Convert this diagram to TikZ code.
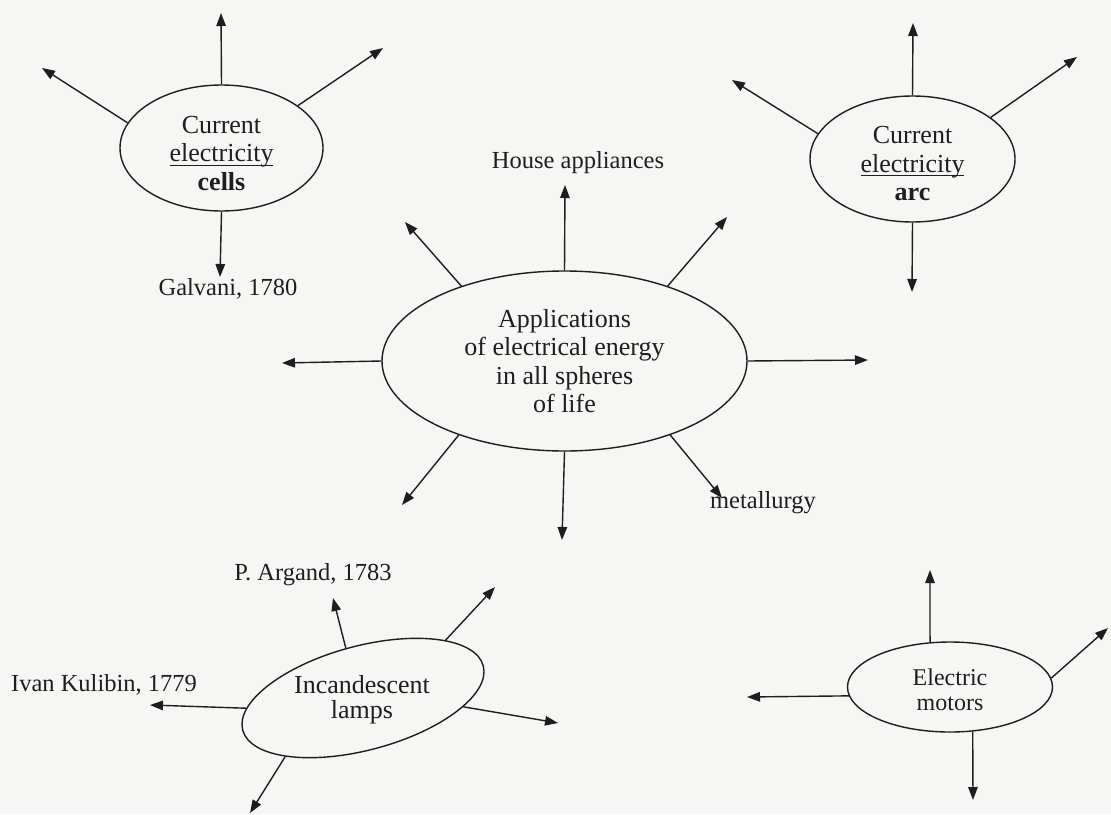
\documentclass[tikz,border=0pt]{standalone}
\usepackage{fontspec}
\setmainfont{Liberation Serif}
\usetikzlibrary{arrows.meta,shapes.geometric}
\definecolor{paper}{RGB}{246,246,244}
\definecolor{ink}{RGB}{30,30,30}
\newsavebox\ulbox
\newcommand\myul[1]{\sbox\ulbox{#1}\rlap{\rule[-3.8pt]{\wd\ulbox}{1.2pt}}\usebox\ulbox}
\begin{document}
\begin{tikzpicture}[x=1pt,y=-1pt,
  every node/.style={text=ink},
  bubble/.style={draw=ink, line width=1.4pt, ellipse, inner sep=0pt, align=center,
    font=\fontsize{26}{28.5}\selectfont},
  btext/.style={align=center, inner sep=0pt, font=\fontsize{26}{28.5}\selectfont},
  lbl/.style={font=\fontsize{24.5}{28}\selectfont, inner sep=0pt},
  arr/.style={draw=ink, line width=1.4pt, -{Triangle[length=13pt,width=9.5pt]}}]

\fill[paper] (0,0) rectangle (1111,814);
\useasboundingbox (0,0) rectangle (1111,814);

% ---------- Current electricity: cells ----------
\node[bubble, minimum width=203pt, minimum height=126pt] (cells) at (221.5,148) {};
\node[btext] (cellstxt) at (221.5,153.5) {Current\\ \myul{electricity}\\ \textbf{cells}};
\coordinate (cellsU)  at (221,13);
\coordinate (cellsUL) at (42,68);
\coordinate (cellsUR) at (383,48);
\node[lbl] (galvani) at (228,289) {Galvani, 1780};
\coordinate (cellsD) at (220,277);
\draw[arr] (cells.90) -- (cellsU);
\draw[arr] (cells.165.6) -- (cellsUL);
\draw[arr] (cells.29.4) -- (cellsUR);
\draw[arr] (cells.270) -- (cellsD);

% ---------- Current electricity: arc ----------
\node[bubble, minimum width=205pt, minimum height=126pt] (arc) at (912.5,159) {};
\node[btext] (arctxt) at (912.5,164) {Current\\ \myul{electricity}\\ \textbf{arc}};
\coordinate (arcU)  at (913,23);
\coordinate (arcUL) at (732,80);
\coordinate (arcUR) at (1077,57);
\coordinate (arcD)  at (912,292);
\draw[arr] (arc.90) -- (arcU);
\draw[arr] (arc.165.6) -- (arcUL);
\draw[arr] (arc.28.6) -- (arcUR);
\draw[arr] (arc.270) -- (arcD);

% ---------- Central ----------
\node[bubble, minimum width=365pt, minimum height=180pt] (app) at (564.5,361)
  {Applications\\ of electrical energy\\ in all spheres\\ of life};
\node[lbl] (house) at (578,163) {House appliances};
\node[lbl] (metal) at (763,503) {metallurgy};
\coordinate (appU)  at (565,185);
\coordinate (appUL) at (405,222);
\coordinate (appUR) at (727,217);
\coordinate (appL)  at (282,363);
\coordinate (appR)  at (868,360);
\coordinate (appLL) at (402,505);
\coordinate (appD)  at (562,540);
\coordinate (appLR) at (722,498);
\draw[arr] (app.90) -- (appU);
\draw[arr] (app.144.3) -- (appUL);
\draw[arr] (app.36.2) -- (appUR);
\draw[arr] (app.180) -- (appL);
\draw[arr] (app.0) -- (appR);
\draw[arr] (app.215.8) -- (appLL);
\draw[arr] (app.270) -- (appD);
\draw[arr] (app.325) -- (appLR);

% ---------- Incandescent lamps ----------
\node[draw=ink, line width=1.4pt, ellipse, inner sep=0pt, minimum width=249pt,
  minimum height=104pt, rotate=15] (lamps) at (363,698) {};
\node[align=center, font=\fontsize{26}{25}\selectfont] (lampstxt) at (362,700)
  {Incandescent\\ lamps};
\node[lbl] (kulibin) at (104,685) {Ivan Kulibin, 1779};
\node[lbl] (argand) at (313,575) {P. Argand, 1783};
\coordinate (lampsL)  at (150,705);
\coordinate (lampsU)  at (333,598);
\coordinate (lampsUR) at (495,587);
\coordinate (lampsR)  at (558,723);
\coordinate (lampsD)  at (250,813);
\draw[arr] (lamps.170) -- (lampsL);
\draw[arr] (lamps.94.4) -- (lampsU);
\draw[arr] (lamps.20) -- (lampsUR);
\draw[arr] (lamps.340.3) -- (lampsR);
\draw[arr] (lamps.202.8) -- (lampsD);

% ---------- Electric motors ----------
\node[bubble, minimum width=205pt, minimum height=90pt] (motors) at (950,687) {};
\node[align=center, inner sep=0pt, font=\fontsize{24}{25}\selectfont] (motorstxt)
  at (950,690) {Electric\\ motors};
\coordinate (motU)  at (930,570);
\coordinate (motUR) at (1108,628);
\coordinate (motL)  at (747,697);
\coordinate (motD)  at (973,800);
\draw[arr] (motors.114.4) -- (motU);
\draw[arr] (motors.5) -- (motUR);
\draw[arr] (motors.185.6) -- (motL);
\draw[arr] (motors.297.6) -- (motD);
\end{tikzpicture}
\end{document}
